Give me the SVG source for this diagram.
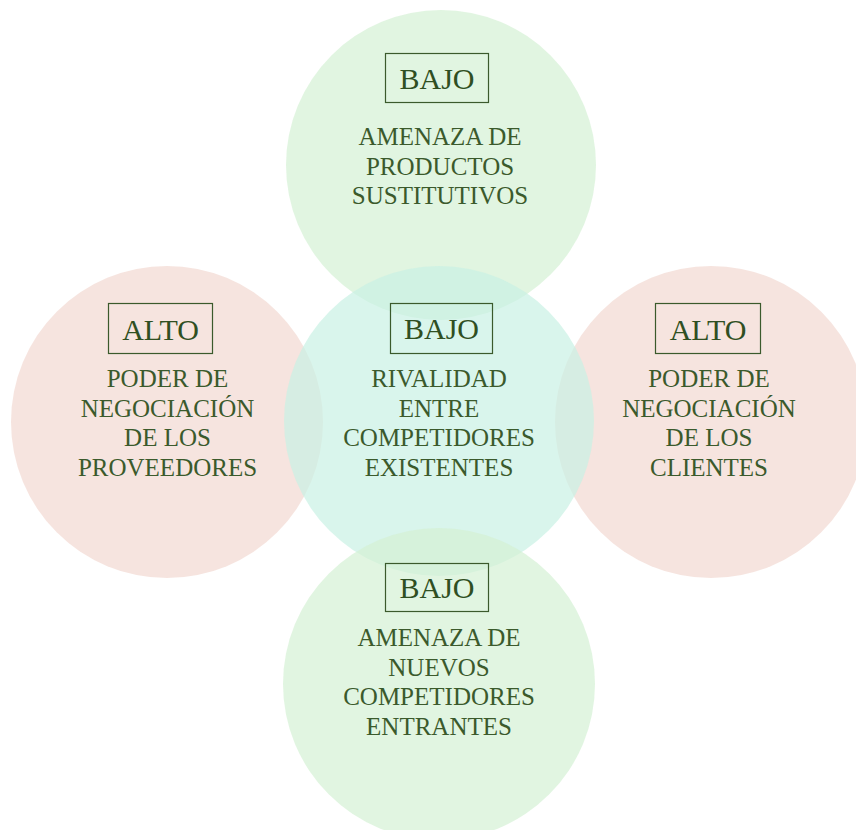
<svg xmlns="http://www.w3.org/2000/svg" width="856" height="830" viewBox="0 0 856 830">
<style>
.g{fill:rgb(212,241,212);fill-opacity:0.7}
.p{fill:rgb(242,216,209);fill-opacity:0.7}
.c{fill:rgb(201,241,228);fill-opacity:0.7}
.box{fill:none;stroke:#3b5a2c;stroke-width:1.2}
.lv{font-family:"Liberation Serif","Times New Roman",serif;font-size:30px;fill:#2f4f22;text-anchor:middle}
.t{font-family:"Liberation Serif","Times New Roman",serif;font-size:25px;fill:#3b5a2c;text-anchor:middle}
</style>
<rect width="856" height="830" fill="#ffffff"/>
<g id="circles">
<circle class="g" cx="441" cy="165" r="155"/>
<circle class="p" cx="167" cy="422" r="156"/>
<circle class="p" cx="711" cy="422" r="156"/>
<circle class="c" cx="439" cy="421" r="155"/>
<circle class="g" cx="439" cy="684" r="156"/>
</g>
<g id="top">
<rect class="box" x="385.5" y="53.5" width="103" height="49"/>
<text class="lv" x="437" y="89">BAJO</text>
<text class="t" x="440" y="145">AMENAZA DE</text>
<text class="t" x="440" y="175">PRODUCTOS</text>
<text class="t" x="440" y="204">SUSTITUTIVOS</text>
</g>
<g id="left">
<rect class="box" x="108.5" y="303.5" width="104" height="50"/>
<text class="lv" x="160.5" y="340">ALTO</text>
<text class="t" x="167.5" y="387">PODER DE</text>
<text class="t" x="167.5" y="417">NEGOCIACIÓN</text>
<text class="t" x="167.5" y="446">DE LOS</text>
<text class="t" x="167.5" y="476">PROVEEDORES</text>
</g>
<g id="center">
<rect class="box" x="390.5" y="303.5" width="102" height="50"/>
<text class="lv" x="441.5" y="339">BAJO</text>
<text class="t" x="439" y="387">RIVALIDAD</text>
<text class="t" x="439" y="417">ENTRE</text>
<text class="t" x="439" y="446">COMPETIDORES</text>
<text class="t" x="439" y="476">EXISTENTES</text>
</g>
<g id="right">
<rect class="box" x="655.5" y="303.5" width="105" height="50"/>
<text class="lv" x="708" y="340">ALTO</text>
<text class="t" x="709" y="387">PODER DE</text>
<text class="t" x="709" y="417">NEGOCIACIÓN</text>
<text class="t" x="709" y="446">DE LOS</text>
<text class="t" x="709" y="476">CLIENTES</text>
</g>
<g id="bottom">
<rect class="box" x="385.5" y="563.5" width="103" height="48"/>
<text class="lv" x="437" y="598">BAJO</text>
<text class="t" x="439" y="646">AMENAZA DE</text>
<text class="t" x="439" y="676">NUEVOS</text>
<text class="t" x="439" y="705">COMPETIDORES</text>
<text class="t" x="439" y="735">ENTRANTES</text>
</g>
<g id="connectors"/>
</svg>
